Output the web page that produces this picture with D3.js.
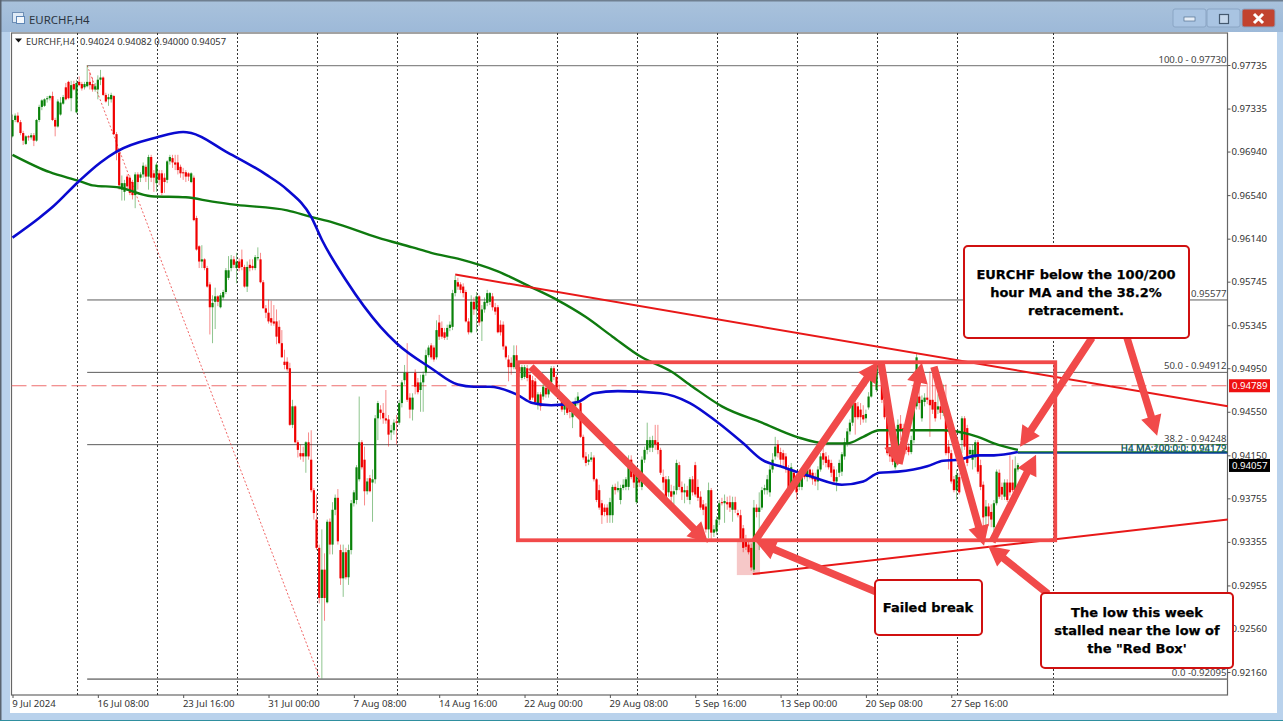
<!DOCTYPE html>
<html>
<head>
<meta charset="utf-8">
<title>EURCHF,H4</title>
<script src="https://cdn.jsdelivr.net/npm/d3@7"></script>
<style>
html, body { margin: 0; padding: 0; background: #fff; overflow: hidden; }
svg { display: block; }
text { font-family: "Noto Sans", sans-serif; fill: #333; }
.axis text { font-size: 9.6px; fill: #333; font-family: "Noto Sans", sans-serif; }
.axis line { stroke: #555; }
.callout text { font-family: "DejaVu Sans", sans-serif; font-weight: bold; font-size: 13px; fill: #000; stroke: #000; stroke-width: 0.25px; text-anchor: middle; }
</style>
</head>
<body>
<div id="chart"></div>
<script>
// ============================================================================
// EURCHF H4 - candles, moving averages, fibonacci levels and trader's markup
// ============================================================================

// Prices are quoted in 1/10000 (9708 = 0.9708), one row is ten H4 bars
const candleOpen = [
    9708,9723,9727,9721,9711,9701,9708,9707,9709,9704,
    9723,9735,9736,9742,9743,9745,9723,9717,9728,9738,
    9753,9758,9743,9756,9730,9758,9756,9753,9754,9758,
    9756,9751,9751,9760,9762,9746,9742,9742,9745,9710,
    9693,9659,9657,9671,9670,9666,9654,9673,9670,9673,
    9680,9671,9689,9674,9665,9674,9674,9670,9668,9685,
    9688,9684,9684,9680,9675,9675,9674,9666,9670,9633,
    9607,9593,9595,9587,9572,9551,9556,9561,9551,9560,
    9565,9578,9587,9595,9587,9593,9595,9588,9570,9590,
    9589,9587,9596,9595,9574,9550,9546,9541,9538,9538,
    9533,9518,9501,9501,9495,9443,9460,9427,9417,9417,
    9414,9427,9411,9383,9356,9330,9284,9310,9280,9354,
    9333,9365,9376,9328,9302,9326,9303,9328,9371,9374,
    9393,9427,9411,9382,9394,9390,9393,9449,9457,9454,
    9449,9448,9436,9438,9446,9445,9463,9484,9491,9468,
    9457,9491,9482,9475,9482,9491,9507,9516,9514,9505,
    9537,9532,9528,9524,9532,9533,9564,9574,9572,9570,
    9565,9538,9528,9556,9549,9561,9538,9549,9555,9556,
    9561,9551,9551,9535,9535,9515,9503,9500,9496,9507,
    9496,9486,9487,9495,9489,9484,9483,9461,9471,9469,
    9477,9471,9482,9495,9487,9473,9469,9457,9463,9460,
    9450,9460,9464,9463,9432,9414,9409,9411,9413,9393,
    9383,9371,9367,9367,9360,9360,9386,9383,9374,9385,
    9386,9386,9411,9399,9372,9395,9386,9411,9420,9422,
    9422,9429,9427,9420,9395,9393,9381,9382,9379,9383,
    9406,9386,9381,9383,9374,9393,9406,9386,9377,9370,
    9368,9347,9383,9344,9345,9356,9372,9371,9372,9372,
    9365,9372,9362,9360,9348,9337,9333,9330,9310,9367,
    9363,9367,9383,9383,9381,9402,9414,9425,9418,9417,
    9414,9402,9386,9399,9393,9386,9386,9399,9395,9402,
    9399,9395,9391,9402,9417,9414,9411,9408,9402,9391,
    9399,9400,9414,9426,9437,9445,9463,9460,9457,9452,
    9449,9459,9469,9487,9475,9498,9497,9466,9450,9417,
    9416,9404,9416,9444,9440,9427,9423,9418,9429,9460,
    9469,9449,9464,9468,9466,9466,9464,9457,9460,9454,
    9466,9423,9417,9393,9383,9395,9429,9449,9440,9416,
    9411,9413,9427,9406,9388,9359,9368,9363,9349,9371,
    9399,9386,9377,9390,9390,9390,9383,9402
];
const candleClose = [
    9723,9727,9721,9711,9704,9708,9707,9709,9704,9723,
    9735,9741,9742,9743,9745,9723,9717,9740,9739,9744,
    9742,9743,9755,9751,9757,9755,9752,9756,9758,9755,
    9751,9754,9760,9762,9746,9740,9744,9746,9710,9693,
    9663,9665,9665,9662,9656,9654,9673,9666,9673,9681,
    9671,9689,9670,9670,9682,9668,9656,9666,9685,9689,
    9684,9682,9677,9674,9674,9671,9671,9674,9631,9604,
    9593,9595,9587,9570,9551,9555,9561,9556,9562,9565,
    9585,9585,9595,9590,9593,9587,9588,9570,9588,9587,
    9587,9597,9597,9574,9550,9546,9538,9537,9536,9524,
    9518,9505,9498,9494,9443,9460,9427,9420,9414,9414,
    9427,9414,9383,9362,9330,9284,9310,9284,9354,9333,
    9365,9376,9336,9302,9326,9303,9328,9371,9381,9404,
    9427,9404,9382,9391,9382,9393,9449,9463,9454,9449,
    9447,9434,9438,9445,9445,9463,9482,9491,9466,9457,
    9468,9478,9473,9482,9489,9507,9514,9505,9503,9530,
    9524,9524,9523,9532,9535,9564,9576,9570,9567,9564,
    9538,9528,9556,9549,9561,9537,9549,9556,9564,9564,
    9551,9547,9528,9528,9515,9505,9496,9496,9507,9494,
    9492,9496,9496,9486,9466,9468,9464,9471,9460,9478,
    9471,9480,9495,9487,9473,9469,9457,9463,9454,9455,
    9459,9464,9469,9432,9413,9408,9411,9413,9393,9374,
    9367,9360,9363,9360,9372,9386,9383,9385,9385,9388,
    9393,9404,9395,9390,9399,9390,9411,9420,9429,9429,
    9429,9425,9420,9399,9390,9374,9393,9377,9382,9408,
    9386,9381,9383,9377,9393,9381,9379,9376,9367,9365,
    9347,9383,9344,9347,9356,9371,9371,9373,9370,9367,
    9372,9365,9360,9337,9330,9331,9326,9312,9367,9363,
    9367,9383,9385,9393,9402,9411,9423,9417,9411,9411,
    9402,9381,9404,9390,9381,9395,9399,9395,9402,9395,
    9393,9391,9402,9414,9411,9408,9404,9399,9391,9395,
    9408,9416,9427,9437,9445,9463,9450,9450,9450,9448,
    9453,9469,9487,9496,9498,9497,9466,9450,9417,9414,
    9409,9417,9443,9438,9425,9420,9418,9429,9460,9505,
    9463,9466,9468,9466,9461,9457,9449,9460,9454,9466,
    9417,9417,9391,9383,9397,9381,9449,9423,9408,9420,
    9420,9427,9400,9386,9358,9368,9359,9356,9371,9400,
    9377,9379,9390,9374,9381,9383,9403,9406
];
const candleHigh = [
    9728,9729,9730,9723,9713,9709,9709,9711,9711,9724,
    9737,9742,9743,9745,9746,9749,9725,9742,9744,9746,
    9757,9759,9759,9759,9760,9763,9758,9758,9773,9767,
    9762,9757,9764,9769,9763,9748,9747,9748,9746,9712,
    9696,9672,9668,9673,9672,9668,9675,9675,9675,9684,
    9682,9691,9691,9677,9684,9677,9677,9674,9686,9691,
    9691,9691,9691,9682,9679,9677,9675,9675,9672,9635,
    9608,9608,9596,9589,9574,9562,9569,9562,9564,9567,
    9587,9598,9599,9598,9601,9596,9604,9590,9593,9595,
    9595,9599,9606,9601,9576,9553,9558,9557,9553,9549,
    9539,9530,9512,9505,9500,9466,9461,9429,9425,9423,
    9428,9436,9438,9385,9379,9333,9347,9325,9356,9357,
    9372,9379,9384,9333,9333,9330,9333,9374,9383,9406,
    9469,9429,9423,9394,9397,9402,9452,9465,9461,9463,
    9475,9452,9443,9448,9452,9466,9484,9498,9518,9472,
    9472,9494,9486,9489,9492,9512,9516,9518,9516,9539,
    9544,9538,9532,9535,9538,9567,9580,9578,9574,9573,
    9567,9541,9562,9560,9565,9562,9553,9560,9567,9565,
    9564,9555,9553,9539,9538,9516,9507,9505,9516,9516,
    9501,9498,9498,9498,9492,9488,9486,9473,9473,9481,
    9480,9484,9497,9497,9489,9480,9472,9466,9466,9463,
    9461,9468,9473,9466,9434,9418,9416,9418,9415,9394,
    9388,9374,9370,9370,9376,9388,9389,9391,9388,9393,
    9395,9415,9415,9404,9402,9400,9414,9423,9445,9432,
    9433,9443,9443,9422,9402,9396,9396,9388,9387,9411,
    9409,9391,9389,9387,9395,9396,9409,9393,9382,9374,
    9371,9390,9385,9351,9359,9374,9376,9379,9377,9378,
    9377,9377,9365,9365,9351,9342,9337,9334,9374,9370,
    9381,9386,9388,9397,9406,9417,9432,9429,9422,9420,
    9417,9406,9408,9402,9397,9399,9402,9402,9405,9406,
    9402,9399,9405,9417,9422,9418,9415,9411,9405,9402,
    9411,9418,9431,9440,9448,9468,9468,9464,9463,9461,
    9457,9473,9494,9500,9501,9501,9499,9470,9452,9422,
    9420,9420,9448,9452,9444,9431,9426,9433,9463,9508,
    9480,9470,9472,9480,9492,9489,9489,9471,9463,9480,
    9480,9429,9420,9396,9402,9399,9451,9451,9443,9423,
    9425,9429,9429,9411,9391,9374,9371,9370,9374,9402,
    9402,9390,9393,9393,9415,9411,9414,9408
];
const candleLow = [
    9707,9721,9720,9709,9700,9700,9704,9705,9699,9703,
    9721,9732,9735,9739,9741,9722,9708,9716,9727,9737,
    9741,9742,9731,9750,9729,9754,9750,9751,9753,9751,
    9749,9749,9742,9755,9745,9739,9736,9739,9709,9686,
    9659,9649,9649,9658,9654,9650,9642,9659,9666,9670,
    9666,9659,9666,9657,9657,9663,9654,9656,9665,9682,
    9679,9677,9673,9670,9668,9666,9667,9665,9630,9603,
    9587,9587,9585,9569,9526,9518,9531,9552,9550,9558,
    9563,9576,9584,9587,9573,9584,9585,9569,9565,9584,
    9585,9585,9594,9573,9550,9541,9536,9534,9534,9517,
    9517,9505,9494,9492,9442,9440,9426,9413,9411,9409,
    9399,9411,9381,9356,9328,9279,9210,9263,9279,9324,
    9324,9360,9333,9296,9285,9301,9296,9324,9368,9370,
    9391,9402,9369,9379,9381,9354,9389,9429,9448,9444,
    9444,9423,9429,9434,9425,9443,9459,9480,9464,9449,
    9447,9471,9471,9455,9455,9488,9505,9503,9501,9503,
    9521,9522,9521,9521,9529,9530,9561,9567,9564,9560,
    9537,9526,9527,9544,9528,9534,9520,9546,9552,9553,
    9548,9544,9527,9525,9512,9503,9483,9489,9494,9492,
    9487,9484,9485,9483,9464,9466,9461,9457,9456,9466,
    9468,9468,9480,9484,9471,9466,9455,9452,9452,9449,
    9440,9455,9461,9431,9411,9405,9406,9409,9391,9372,
    9365,9352,9359,9353,9353,9353,9379,9381,9370,9383,
    9383,9383,9393,9385,9370,9386,9383,9408,9416,9418,
    9418,9420,9416,9397,9383,9371,9377,9370,9370,9379,
    9383,9374,9371,9374,9370,9378,9377,9373,9365,9360,
    9344,9339,9337,9340,9342,9351,9369,9353,9365,9363,
    9354,9362,9358,9336,9326,9328,9324,9309,9308,9358,
    9328,9365,9379,9379,9377,9399,9411,9413,9406,9404,
    9399,9379,9383,9386,9374,9383,9383,9393,9391,9393,
    9388,9387,9383,9400,9406,9404,9402,9395,9388,9382,
    9395,9396,9411,9423,9434,9442,9434,9448,9443,9445,
    9445,9457,9468,9484,9473,9489,9463,9448,9415,9409,
    9406,9402,9413,9429,9422,9416,9415,9416,9426,9457,
    9457,9446,9460,9462,9432,9453,9446,9453,9448,9451,
    9415,9402,9389,9381,9374,9379,9417,9420,9405,9413,
    9402,9404,9398,9383,9347,9349,9350,9349,9342,9369,
    9375,9374,9374,9372,9378,9381,9381,9400
];

// Moving averages, sampled along the curve
const ma100Bars = [0,10,15,25,33,39,54,64,67,80,95,103,112,116,125,138,144,157,167,173,179,189,195,202,212,218,227,243,254,264,274,281,289,300,311,319,325,332,343,349,355,362,368,377];
const ma100Values = [9615,9633,9643,9667,9684,9694,9707,9712,9711,9694,9673,9659,9634,9613,9576,9533,9518,9495,9480,9478,9478,9471,9463,9461,9464,9472,9474,9472,9463,9446,9426,9411,9404,9395,9388,9391,9399,9400,9405,9410,9411,9415,9415,9418];
const ma200Bars = [0,14,25,30,40,52,65,75,84,103,112,120,137,150,157,168,182,194,204,215,225,236,247,255,266,281,294,305,313,319,325,330,339,349,356,362,368,377];
const ma200Values = [9691,9675,9667,9663,9661,9653,9652,9648,9645,9640,9634,9629,9615,9606,9601,9595,9584,9570,9558,9542,9524,9505,9492,9478,9460,9445,9432,9426,9426,9432,9438,9438,9438,9438,9436,9432,9426,9420];

// Right hand price scale and bottom time scale
const priceTicks = [0.97735,0.97335,0.96940,0.96540,0.96140,0.95745,0.95345,0.94950,0.94550,0.94150,0.93755,0.93355,0.92955,0.92560,0.92160];
const timeTickBars = [0,32,64,96,128,160,192,224,256,288,320,352];
const timeTickLabels = ['9 Jul 2024','16 Jul 08:00','23 Jul 16:00','31 Jul 00:00','7 Aug 08:00','14 Aug 16:00','22 Aug 00:00','29 Aug 08:00','5 Sep 16:00','13 Sep 00:00','20 Sep 08:00','27 Sep 16:00'];
const separatorBars = [24,54,84,114,144,174,204,234,264,294,324,354,390];

// Fibonacci retracement
const fibLevels = [0.97730,0.95577,0.94912,0.94248,0.92095];
const fibLabels = ['100.0 - 0.97730','0.95577','50.0 - 0.94912','38.2 - 0.94248','0.0 -0.92095'];
const fibStartBar = 28;
const fibLowBar = 115.3;

const bidPrice = 0.94789;
const lastPrice = 0.94057;
const maLevels = [0.94179,0.94172];
const maLabels = ['H4 MA:200:0:0: 0.94179','H4 MA:100:0:0: 0.94172'];
const maLevelStartBar = 377;

// Trader's markup, in [bar, price/1e4]
const trendFromBar = [166,277.6];
const trendFromPrice = [9581,9306];
const trendToBar = [455.7,455.7];
const trendToPrice = [9460,9356];
const redBoxBars = [189.5,391];
const redBoxPrices = [9500.5,9337];
const breakBoxBars = [271.6,280.3];
const breakBoxPrices = [9337,9305];
const arrowFromBar = [194.4,278.4,325.7,332.4,345.5,367.3,404.8,417.9,323.8,388.3];
const arrowFromPrice = [9496.3,9336.5,9500,9407.2,9496.3,9335.6,9523,9523,9289.6,9287.8];
const arrowToBar = [260.8,324.6,332,341,364.3,383.8,377.8,429.2,278.8,365.8];
const arrowToPrice = [9334.6,9500.9,9405.4,9500,9331.9,9415.5,9422.8,9433,9335.6,9331.9];
const calloutTexts = [
    ['EURCHF below the 100/200','hour MA and the 38.2%','retracement.'],
    ['Failed break'],
    ['The low this week','stalled near the low of','the "Red Box\'']
];

// ----------------------------------------------------------------------------
const width = 1283, height = 721;
const plot = { left: 11.5, right: 1227.5, top: 33, bottom: 695 };

const svg = d3.select('#chart').append('svg')
    .attr('width', width).attr('height', height);

const xScale = d3.scaleLinear().domain([0, 456]).range([12.5, 1228.6]);
const yScale = d3.scaleLinear().domain([0.97735, 0.9216]).range([65, 672]);
const yPip = d => yScale(d / 10000);

const defs = svg.append('defs');
const titleGrad = defs.append('linearGradient').attr('id', 'titleGrad')
    .attr('x1', 0).attr('x2', 0).attr('y1', 0).attr('y2', 1);
titleGrad.append('stop').attr('offset', '0%').attr('stop-color', '#a9c2dc');
titleGrad.append('stop').attr('offset', '100%').attr('stop-color', '#9db9d8');
defs.append('clipPath').attr('id', 'plotClip').append('rect')
    .attr('x', plot.left).attr('y', plot.top)
    .attr('width', plot.right - plot.left).attr('height', plot.bottom - plot.top);

// Window chrome
svg.append('rect').attr('width', width).attr('height', height).attr('fill', '#b9d2ec');
svg.append('rect').attr('width', width).attr('height', 32).attr('fill', 'url(#titleGrad)');
svg.append('rect').attr('x', 0).attr('y', 0).attr('width', width).attr('height', 1.5).attr('fill', '#6f7f90');
svg.append('rect').attr('x', 0).attr('y', 0).attr('width', 1.5).attr('height', height).attr('fill', '#5a6470');
svg.append('rect').attr('x', 0).attr('y', 720).attr('width', width).attr('height', 1).attr('fill', '#2f8f9f');
svg.append('rect').attr('x', 10).attr('y', 32).attr('width', 1267).attr('height', 681).attr('fill', '#fff');

// Title icon
const icon = svg.append('g');
icon.append('rect').attr('x', 12.5).attr('y', 12.5).attr('width', 11).attr('height', 10).attr('fill', '#dfeaf6').attr('stroke', '#6f8fb5');
icon.append('rect').attr('x', 16.5).attr('y', 16.5).attr('width', 8).attr('height', 7).attr('fill', '#f4f8fc').attr('stroke', '#5f86b5');
svg.append('text').attr('x', 29).attr('y', 24).style('font-size', '11.4px').style('fill', '#2b3440').text('EURCHF,H4');

// Window buttons
const buttons = svg.append('g');
[[1173, '#a9c4e2'], [1207, '#a9c4e2'], [1242, '#c2432f']].forEach(b => {
    buttons.append('rect').attr('x', b[0]).attr('y', 9).attr('width', 33).attr('height', 18)
        .attr('rx', 2).attr('fill', b[1]).attr('stroke', '#8aa5c4');
});
buttons.append('rect').attr('x', 1184).attr('y', 17).attr('width', 11).attr('height', 4).attr('fill', '#e6eef7').attr('stroke', '#54708f').attr('stroke-width', 0.7);
buttons.append('rect').attr('x', 1219.5).attr('y', 14.5).attr('width', 9).attr('height', 9).attr('fill', '#c6d8ec').attr('stroke', '#44596f').attr('stroke-width', 1.2);
buttons.append('path').attr('d', 'M1254 14L1263 23M1263 14L1254 23').attr('stroke', '#fff').attr('stroke-width', 3);

// Pane frame
svg.append('rect')
    .attr('x', plot.left).attr('y', plot.top)
    .attr('width', plot.right - plot.left).attr('height', plot.bottom - plot.top)
    .attr('fill', '#fff').attr('stroke', '#666').attr('stroke-width', 1.2);

const g = svg.append('g').attr('clip-path', 'url(#plotClip)');

// Week separators
g.selectAll('.separator')
    .data(separatorBars)
    .join('line')
    .attr('x1', d => Math.round(xScale(d)) + 0.5).attr('x2', d => Math.round(xScale(d)) + 0.5)
    .attr('y1', plot.top).attr('y2', plot.bottom)
    .attr('stroke', '#333').attr('stroke-dasharray', '2,2').attr('stroke-width', 1);

// Fibonacci levels
g.selectAll('.fib')
    .data(fibLevels)
    .join('line')
    .attr('x1', xScale(fibStartBar)).attr('x2', plot.right)
    .attr('y1', d => yScale(d)).attr('y2', d => yScale(d))
    .attr('stroke', (d, i) => (i === 0 || i === 4) ? '#8a8a8a' : '#5c5c5c')
    .attr('stroke-width', (d, i) => (i === 0 ? 1.3 : i === 4 ? 1.8 : 1));

g.append('line')
    .attr('x1', xScale(fibStartBar)).attr('y1', yScale(fibLevels[0]))
    .attr('x2', xScale(fibLowBar)).attr('y2', yScale(fibLevels[4]))
    .attr('stroke', '#ee5555').attr('stroke-dasharray', '2,2').attr('stroke-width', 0.9);

// Bid line
g.append('line')
    .attr('x1', plot.left).attr('x2', plot.right)
    .attr('y1', yScale(bidPrice)).attr('y2', yScale(bidPrice))
    .attr('stroke', '#ee6f6f').attr('stroke-dasharray', '15,5').attr('stroke-width', 1.2);

// Failed-break shading sits under the candles
g.append('rect')
    .attr('x', xScale(breakBoxBars[0])).attr('width', xScale(breakBoxBars[1]) - xScale(breakBoxBars[0]))
    .attr('y', yPip(breakBoxPrices[0])).attr('height', yPip(breakBoxPrices[1]) - yPip(breakBoxPrices[0]))
    .attr('fill', '#f6c8c8');

// Candles
const candles = candleOpen.map((o, i) => ({
    i, o, c: candleClose[i], h: candleHigh[i], l: candleLow[i]
}));
const candleColor = d => d.c >= d.o ? '#0a820a' : '#f00000';

g.selectAll('.wick')
    .data(candles)
    .join('line')
    .attr('x1', d => xScale(d.i)).attr('x2', d => xScale(d.i))
    .attr('y1', d => yPip(d.h)).attr('y2', d => yPip(d.l))
    .attr('stroke', candleColor).attr('stroke-width', 1).attr('opacity', 0.45);

g.selectAll('.body')
    .data(candles)
    .join('rect')
    .attr('x', d => xScale(d.i) - 1.1)
    .attr('width', 2.2)
    .attr('y', d => Math.min(yPip(d.o), yPip(d.c)))
    .attr('height', d => Math.max(1, Math.abs(yPip(d.o) - yPip(d.c))))
    .attr('fill', candleColor);

// Moving averages
const maLine = (bars, values) => d3.line()
    .x((d, i) => xScale(bars[i]))
    .y(d => yPip(d))
    .curve(d3.curveMonotoneX)(values);

g.append('path').attr('d', maLine(ma200Bars, ma200Values))
    .attr('fill', 'none').attr('stroke', '#0f7a0f').attr('stroke-width', 2.4);
g.append('path').attr('d', maLine(ma100Bars, ma100Values))
    .attr('fill', 'none').attr('stroke', '#0a0ad0').attr('stroke-width', 2.6);

// MA level lines
g.selectAll('.maLevel')
    .data(maLevels)
    .join('line')
    .attr('x1', xScale(maLevelStartBar)).attr('x2', plot.right)
    .attr('y1', d => yScale(d)).attr('y2', d => yScale(d))
    .attr('stroke', (d, i) => i === 0 ? '#0f7a0f' : '#0a3fa0').attr('stroke-width', 1.6);

// Axes
const yAxis = svg.append('g')
    .attr('class', 'axis')
    .attr('transform', `translate(${plot.right},0)`)
    .call(d3.axisRight(yScale).tickValues(priceTicks).tickFormat(d3.format('.5f')).tickSize(3).tickPadding(1));
yAxis.select('.domain').remove();

const xAxis = svg.append('g')
    .attr('class', 'axis')
    .attr('transform', `translate(0,${plot.bottom})`)
    .call(d3.axisBottom(xScale).tickValues(timeTickBars)
        .tickFormat((d, i) => timeTickLabels[i]).tickSize(3).tickPadding(2));
xAxis.select('.domain').remove();
xAxis.selectAll('text').attr('text-anchor', 'start').attr('dx', -0.8);

// Chart header
svg.append('path').attr('d', 'M15 38.5h7l-3.5 4z').attr('fill', '#111');
svg.append('text').attr('x', 26).attr('y', 44.5).style('font-size', '9.2px').text('EURCHF,H4');
svg.append('text').attr('x', 80).attr('y', 44.5).style('font-size', '9.4px').text('0.94024 0.94082 0.94000 0.94057');

// Level texts, right aligned against the price scale
const levelLabels = svg.append('g').style('font-size', '9.6px').attr('text-anchor', 'end');
fibLevels.forEach((lvl, i) => {
    levelLabels.append('text')
        .attr('x', plot.right - 1).attr('y', yScale(lvl) - 3)
        .style('fill', '#444').text(fibLabels[i]);
});
maLevels.forEach((lvl, i) => {
    levelLabels.append('text')
        .attr('x', plot.right - 1).attr('y', yScale(lvl) - 1)
        .style('fill', i === 0 ? '#0f7a0f' : '#1a4f8a').text(maLabels[i]);
});

// Price tags
[[bidPrice, '#ee1111'], [lastPrice, '#000']].forEach(p => {
    svg.append('rect')
        .attr('x', plot.right + 1.5).attr('y', yScale(p[0]) - 6.5)
        .attr('width', 41).attr('height', 13).attr('fill', p[1]);
    svg.append('text')
        .attr('x', plot.right + 4.5).attr('y', yScale(p[0]) + 3.6)
        .style('font-size', '9.6px').style('fill', '#fff').text(p[0].toFixed(5));
});

// Trader's markup
const markupRed = '#f14a4a';
const markup = svg.append('g');
trendFromBar.forEach((b, i) => {
    markup.append('line')
        .attr('x1', xScale(b)).attr('y1', yPip(trendFromPrice[i]))
        .attr('x2', xScale(trendToBar[i])).attr('y2', yPip(trendToPrice[i]))
        .attr('stroke', '#e81818').attr('stroke-width', 2);
});
markup.append('rect')
    .attr('x', xScale(redBoxBars[0])).attr('y', yPip(redBoxPrices[0]))
    .attr('width', xScale(redBoxBars[1]) - xScale(redBoxBars[0]))
    .attr('height', yPip(redBoxPrices[1]) - yPip(redBoxPrices[0]))
    .attr('fill', 'none').attr('stroke', markupRed).attr('stroke-width', 3.8);

// Arrow outline built from the two ends
function arrowPath(x1, y1, x2, y2) {
    const shaft = 3.7, headLen = 20, headHalf = 10.5;
    const len = Math.hypot(x2 - x1, y2 - y1);
    const ux = (x2 - x1) / len, uy = (y2 - y1) / len;
    const px = -uy, py = ux;
    const bx = x2 - ux * headLen, by = y2 - uy * headLen;
    const pts = [
        [x1 + px * shaft, y1 + py * shaft],
        [bx + px * shaft, by + py * shaft],
        [bx + px * headHalf, by + py * headHalf],
        [x2, y2],
        [bx - px * headHalf, by - py * headHalf],
        [bx - px * shaft, by - py * shaft],
        [x1 - px * shaft, y1 - py * shaft]
    ];
    return 'M' + pts.map(p => p.join(',')).join('L') + 'Z';
}
markup.selectAll('.arrow')
    .data(arrowFromBar)
    .join('path')
    .attr('d', (d, i) => arrowPath(xScale(d), yPip(arrowFromPrice[i]), xScale(arrowToBar[i]), yPip(arrowToPrice[i])))
    .attr('fill', markupRed);

// Callouts go on top of everything, they hide part of the scale
const calloutBoxes = [
    { x: 964, y: 246, w: 225, h: 92, cx: 1076, first: 279 },
    { x: 875, y: 580, w: 107, h: 55, cx: 928, first: 612 },
    { x: 1041, y: 593, w: 192, h: 75, cx: 1137, first: 617 }
];
calloutTexts.forEach((lines, i) => {
    const b = calloutBoxes[i];
    const c = svg.append('g').attr('class', 'callout');
    c.append('rect').attr('x', b.x).attr('y', b.y).attr('width', b.w).attr('height', b.h)
        .attr('rx', 4).attr('fill', '#fff').attr('stroke', '#d01010').attr('stroke-width', 2);
    lines.forEach((t, k) => {
        c.append('text').attr('x', b.cx).attr('y', b.first + k * 18).text(t);
    });
});
</script>
</body>
</html>
